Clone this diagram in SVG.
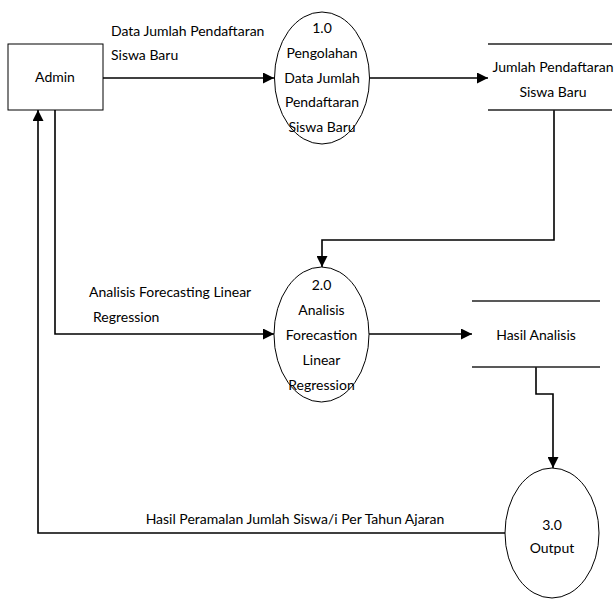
<svg xmlns="http://www.w3.org/2000/svg" width="616" height="599" viewBox="0 0 616 599">
<defs>
<style>
.t{font-family:Lato,"Liberation Sans",sans-serif;font-size:14px;fill:#000}
.c{text-anchor:middle}
.proc{fill:#fff;stroke:#000;stroke-width:1}
.ent{fill:#fff;stroke:#000;stroke-width:1}
.st{stroke:#222;stroke-width:1.6;fill:none}
.flow{fill:none;stroke:#000;stroke-width:1.6;marker-end:url(#ah)}
</style>
<marker id="ah" markerUnits="userSpaceOnUse" markerWidth="11" markerHeight="11" refX="11" refY="5.5" orient="auto">
<path d="M0,0 L11,5.5 L0,11 z" fill="#000"/>
</marker>
</defs>
<rect width="616" height="599" fill="#fff"/>
<g id="connectors">
<polyline class="flow" points="103,78 274,78"/>
<polyline class="flow" points="370,78 488,78"/>
<polyline class="flow" points="554,110 554,240 322,240 322,267"/>
<polyline class="flow" points="55,110 55,334 274,334"/>
<polyline class="flow" points="369,334 472,334"/>
<polyline class="flow" points="536,367 536,394 553,394 553,468"/>
<polyline class="flow" points="505,533 38,533 38,110"/>
<text class="t" x="111" y="36">Data Jumlah Pendaftaran</text>
<text class="t" x="111" y="60">Siswa Baru</text>
<text class="t" x="89" y="297">Analisis Forecasting Linear</text>
<text class="t" x="93" y="322">Regression</text>
<text class="t c" x="295" y="524">Hasil Peramalan Jumlah Siswa/i Per Tahun Ajaran</text>
</g>
<g id="admin">
<rect class="ent" x="8" y="44" width="95" height="66"/>
<text class="t c" x="55" y="82">Admin</text>
</g>
<g id="p1">
<ellipse class="proc" cx="322" cy="78" rx="47.5" ry="66"/>
<text class="t c" x="322" y="33">1.0</text>
<text class="t c" x="322" y="58">Pengolahan</text>
<text class="t c" x="322" y="83">Data Jumlah</text>
<text class="t c" x="322" y="107">Pendaftaran</text>
<text class="t c" x="322" y="132">Siswa Baru</text>
</g>
<g id="store1">
<line class="st" x1="488" y1="44" x2="612" y2="44"/>
<line class="st" x1="488" y1="110" x2="612" y2="110"/>
<text class="t c" x="553" y="72">Jumlah Pendaftaran</text>
<text class="t c" x="553" y="97">Siswa Baru</text>
</g>
<g id="p2">
<ellipse class="proc" cx="321.5" cy="334.5" rx="47.5" ry="67.5"/>
<text class="t c" x="321.5" y="290">2.0</text>
<text class="t c" x="321.5" y="315">Analisis</text>
<text class="t c" x="321.5" y="340">Forecastion</text>
<text class="t c" x="321.5" y="365">Linear</text>
<text class="t c" x="321.5" y="390">Regression</text>
</g>
<g id="store2">
<line class="st" x1="472" y1="301" x2="600" y2="301"/>
<line class="st" x1="472" y1="367" x2="600" y2="367"/>
<text class="t c" x="536" y="340">Hasil Analisis</text>
</g>
<g id="p3">
<ellipse class="proc" cx="552" cy="533" rx="47" ry="65"/>
<text class="t c" x="552" y="530">3.0</text>
<text class="t c" x="552" y="553">Output</text>
</g>
</svg>
